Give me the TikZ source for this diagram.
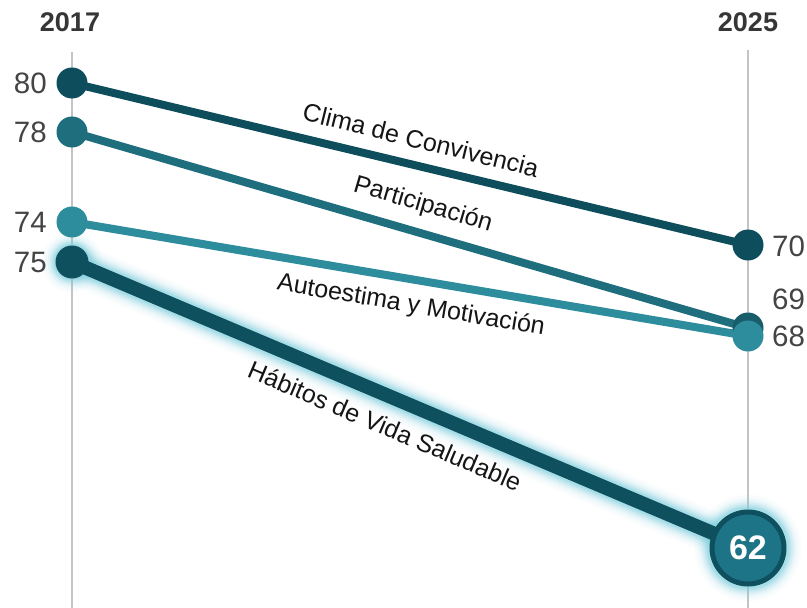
\documentclass[tikz,border=0pt]{standalone}
\usepackage{fontspec}
\setmainfont{Liberation Sans}
\definecolor{cClima}{HTML}{0E4D5C}
\definecolor{cPart}{HTML}{1E6E7E}
\definecolor{cAuto}{HTML}{2E8D9D}
\definecolor{cHab}{HTML}{0E505E}
\definecolor{cBig}{HTML}{1E7487}
\definecolor{glowc}{HTML}{7FD0DF}
\definecolor{axisc}{HTML}{C4C4C4}
\definecolor{numc}{HTML}{444444}
\definecolor{labc}{HTML}{151515}
\pgfdeclarelayer{bg}
\pgfsetlayers{bg,main}
\begin{document}
\begin{tikzpicture}[x=1pt,y=-1pt,
  dot/.style={circle,inner sep=0pt,minimum size=31pt},
  conn/.style={line width=8pt},
  numl/.style={text=numc,font=\fontsize{29.5}{32}\selectfont,inner sep=0pt},
  yearl/.style={text=numc!80!black,font=\bfseries\fontsize{27}{30}\selectfont,inner sep=0pt},
  linel/.style={text=labc,font=\fontsize{25}{28}\selectfont,inner sep=0pt},
  axisl/.style={axisc,line width=1.5pt}]
\useasboundingbox (0,0) rectangle (807,608);
% axes
\coordinate (lt) at (72,52);
\coordinate (lb) at (72,608);
\coordinate (rt) at (748,50);
\coordinate (rb) at (748,608);
\begin{pgfonlayer}{bg}
\fill[white] (0,0) rectangle (807,608);
\draw[axisl] (lt) -- (lb);
\draw[axisl] (rt) -- (rb);
\end{pgfonlayer}
% nodes
\node[dot,fill=cClima] (n80) at (72,83) {};
\node[dot,fill=cPart] (n78) at (72,132) {};
\node[dot,fill=cAuto] (n74) at (72,222) {};
\node[dot,minimum size=33pt,fill=cHab] (n75) at (72,262) {};
\node[dot,fill=cClima] (n70) at (748,245) {};
\node[dot,fill=cPart!85!black] (n69) at (748,328) {};
\node[dot,fill=cAuto] (n68) at (748,336) {};
\node[circle,inner sep=0pt,minimum size=72pt,fill=cBig,draw=cHab,line width=5pt,
      text=white,font=\bfseries\fontsize{34}{36}\selectfont] (n62) at (748,548) {62};
\begin{pgfonlayer}{bg}
% glow of Habitos
\foreach \w/\o in {42/0.05,36/0.07,31/0.10,27/0.15,23/0.24,19/0.35}{
  \draw[glowc,line width=\w pt,opacity=\o,line cap=round] (n75.center) -- (n62.center);
  \fill[glowc,opacity=\o] (n62.center) circle ({39+\w/2-7});
  \fill[glowc,opacity=\o] (n75.center) circle ({16+\w/2-7});
}
\draw[conn,cClima] (n80.center) -- (n70.center);
\draw[conn,cPart] (n78.center) -- (n69.center);
\draw[conn,cAuto] (n74.center) -- (n68.center);
\draw[cHab,line width=14pt] (n75.center) -- (n62.center);
\end{pgfonlayer}
% years
\node[yearl] (y1) at (70,22) {2017};
\node[yearl] (y2) at (748,22) {2025};
% value labels
\node[numl,anchor=east] (l80) at (47,83) {80};
\node[numl,anchor=east] (l78) at (47,132) {78};
\node[numl,anchor=east] (l74) at (47,222) {74};
\node[numl,anchor=east] (l75) at (47,262) {75};
\node[numl,anchor=west] (l70) at (772,246) {70};
\node[numl,anchor=west] (l69) at (772,299) {69};
\node[numl,anchor=west] (l68) at (772,336) {68};
% line labels
\node[linel,rotate=-13.8] (tClima) at (421,140) {Clima de Convivencia};
\node[linel,rotate=-16.3] (tPart) at (423,205) {Participación};
\node[linel,rotate=-9.6] (tAuto) at (411,306) {Autoestima y Motivación};
\node[linel,rotate=-23] (tHab) at (385,426) {Hábitos de Vida Saludable};
\end{tikzpicture}
\end{document}
